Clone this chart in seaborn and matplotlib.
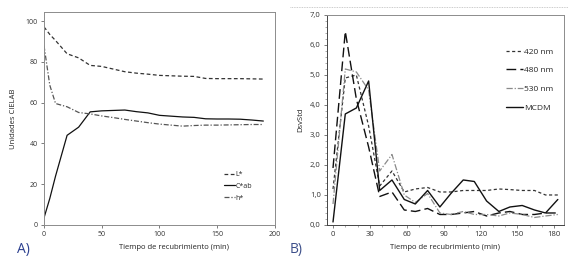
import numpy as np
import pandas as pd
import matplotlib
matplotlib.use('Agg')
import matplotlib.pyplot as plt
from matplotlib.lines import Line2D
from matplotlib.ticker import MultipleLocator, FuncFormatter
import seaborn as sns

# Panel A: CIELAB units vs coating time
time_a = [0, 5, 10, 20, 30, 40, 50, 60, 70, 80, 90, 100, 110, 120, 130, 140, 150, 160, 170, 180, 190]
l_star = [97.2, 93.5, 90.5, 84, 82, 78.3, 77.8, 76.5, 75.2, 74.5, 74, 73.4, 73.2, 73, 72.9, 71.9, 71.8, 71.8, 71.8, 71.7, 71.6]
c_ab = [3.5, 13, 24, 44, 48, 55.5, 56, 56.2, 56.4, 55.6, 55, 53.8, 53.4, 53, 52.8, 52.1, 52, 52, 51.9, 51.5, 51]
h_star = [88, 68.6, 59.6, 58, 55.2, 54.5, 53.5, 52.7, 51.8, 51, 50.2, 49.5, 49, 48.5, 48.8, 49, 49, 49.1, 49.2, 49.3, 49.3]

# Panel B: standard deviation per wavelength
time_b = [0, 10, 19, 29, 38, 48, 58, 67, 77, 87, 96, 106, 115, 125, 135, 144, 154, 164, 173, 183]
nm420 = [1.2, 4.9, 5.0, 3.3, 1.3, 1.8, 1.1, 1.2, 1.25, 1.1, 1.1, 1.15, 1.15, 1.15, 1.2, 1.18, 1.15, 1.15, 1.0, 1.0]
nm480 = [1.9, 6.45, 4.2, 2.6, 0.95, 1.1, 0.5, 0.45, 0.55, 0.35, 0.35, 0.4, 0.45, 0.3, 0.4, 0.45, 0.35, 0.35, 0.4, 0.4]
nm530 = [0.7, 5.2, 5.1, 4.5, 1.8, 2.35, 1.0, 0.75, 1.05, 0.4, 0.35, 0.45, 0.35, 0.35, 0.3, 0.4, 0.35, 0.25, 0.3, 0.35]
mcdm = [0.1, 3.7, 3.9, 4.8, 1.15, 1.5, 0.85, 0.7, 1.15, 0.6, 1.05, 1.5, 1.45, 0.8, 0.45, 0.6, 0.65, 0.5, 0.4, 0.85]

sns.set_style("white")
plt.rcParams['font.family'] = ['Open Sans', 'DejaVu Sans']
fs = 5

fig = plt.figure(figsize=(5.86, 2.61), dpi=100)
ax_a = fig.add_axes([0.0751, 0.138, 0.394, 0.816])
ax_b = fig.add_axes([0.558, 0.138, 0.4044, 0.8046])

# Panel A lines
sns.lineplot(x=time_a, y=l_star, ax=ax_a, color="#333333", linestyle=(0, (3, 2)), lw=0.9, label="L*")
sns.lineplot(x=time_a, y=c_ab, ax=ax_a, color="#111111", linestyle="-", lw=0.9, label="C*ab")
sns.lineplot(x=time_a, y=h_star, ax=ax_a, color="#555555", linestyle=(0, (4, 1.5, 1, 1.5)), lw=0.9, label="h*")
ax_a.set_xlim(0, 200)
ax_a.set_ylim(0, 104.5)
ax_a.set_xticks([0, 50, 100, 150, 200])
ax_a.set_yticks([0, 20, 40, 60, 80, 100])
ax_a.set_xlabel("Tiempo de recubrimiento (min)", fontsize=fs + 0.5, color="#222222")
ax_a.xaxis.set_label_coords(0.565, -0.09)
ax_a.set_ylabel("Unidades CIELAB", fontsize=fs + 0.5, color="#222222", labelpad=6)
ax_a.legend(loc="lower right", bbox_to_anchor=(0.93, 0.08), frameon=False, fontsize=fs,
            handlelength=1.6, handletextpad=0.1, labelspacing=0.7)

# Panel B lines
sns.lineplot(x=time_b, y=nm420, ax=ax_b, color="#333333", linestyle=(0, (2.5, 2)), lw=0.9, label="420 nm")
sns.lineplot(x=time_b, y=nm480, ax=ax_b, color="#111111", linestyle=(0, (7, 3)), lw=1.0, label="480 nm")
sns.lineplot(x=time_b, y=nm530, ax=ax_b, color="#8a8a8a", linestyle=(0, (5, 1.5, 1, 1.5)), lw=0.9, label="530 nm")
sns.lineplot(x=time_b, y=mcdm, ax=ax_b, color="#111111", linestyle="-", lw=1.0, label="MCDM")
ax_b.set_xlim(-4.9, 188)
ax_b.set_ylim(0, 7)
ax_b.set_xticks([0, 30, 60, 90, 120, 150, 180])
ax_b.xaxis.set_minor_locator(MultipleLocator(10))
ax_b.yaxis.set_major_locator(MultipleLocator(1))
ax_b.yaxis.set_minor_locator(MultipleLocator(0.2))
ax_b.yaxis.set_major_formatter(FuncFormatter(lambda v, p: f"{v:.1f}".replace(".", ",")))
ax_b.set_xlabel("Tiempo de recubrimiento (min)", fontsize=fs + 0.5, color="#222222")
ax_b.xaxis.set_label_coords(0.5, -0.09)
ax_b.set_ylabel("DsvStd", fontsize=fs + 0.5, color="#222222", labelpad=4)
ax_b.legend(loc="upper right", bbox_to_anchor=(0.985, 0.88), frameon=False, fontsize=fs + 1,
            handlelength=2.0, handletextpad=0.1, labelspacing=1.3)

for ax in (ax_a, ax_b):
    for s in ax.spines.values():
        s.set_color("#8c8c8c")
        s.set_linewidth(0.7)
    ax.tick_params(which="major", direction="out", length=2.5, width=0.6, color="#666666",
                   labelsize=fs, labelcolor="#333333", pad=2, bottom=True, left=True)
    ax.tick_params(which="minor", direction="out", length=1.5, width=0.5, color="#888888",
                   bottom=True, left=True)
    ax.grid(False)

ax_b.spines["left"].set_color("#444444")
ax_b.spines["bottom"].set_color("#444444")
ax_b.tick_params(which="major", labelsize=fs + 0.5)

# panel letters and frame line
fig.text(17 / 586, 1 - 253 / 261, "A)", fontsize=10, color="#2b3f8f")
fig.text(290 / 586, 1 - 253 / 261, "B)", fontsize=10, color="#3d4f8a")
fig.add_artist(Line2D([290 / 586, 568 / 586], [1 - 7 / 261, 1 - 7 / 261], transform=fig.transFigure,
                      color="#bbbbbb", lw=0.6, linestyle=(0, (1, 1))))

fig.savefig("out.png", dpi=100)
